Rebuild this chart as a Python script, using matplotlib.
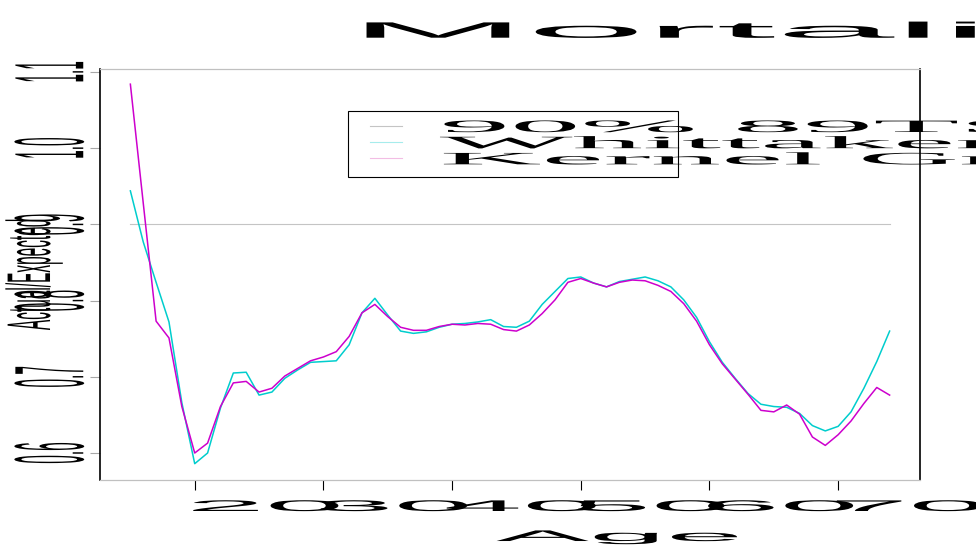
import numpy as np
import matplotlib
matplotlib.use("Agg")
import matplotlib.pyplot as plt
from matplotlib import patheffects
from matplotlib.transforms import Affine2D
from matplotlib.lines import Line2D
from matplotlib.legend_handler import HandlerLine2D

ages = list(range(15, 75))
whittaker = [0.944, 0.877, 0.824, 0.772, 0.666, 0.586, 0.600, 0.659, 0.705, 0.706,
             0.676, 0.680, 0.698, 0.709, 0.719, 0.720, 0.721, 0.742, 0.784, 0.803,
             0.781, 0.760, 0.757, 0.759, 0.765, 0.769, 0.770, 0.772, 0.775, 0.766,
             0.765, 0.773, 0.795, 0.812, 0.829, 0.831, 0.823, 0.818, 0.825, 0.828,
             0.831, 0.826, 0.818, 0.801, 0.778, 0.746, 0.719, 0.698, 0.678, 0.664,
             0.661, 0.660, 0.652, 0.636, 0.629, 0.635, 0.654, 0.685, 0.720, 0.760]
kernel = [1.084, 0.928, 0.773, 0.751, 0.661, 0.600, 0.613, 0.661, 0.692, 0.694,
          0.680, 0.685, 0.701, 0.711, 0.721, 0.726, 0.733, 0.753, 0.784, 0.795,
          0.779, 0.765, 0.761, 0.761, 0.766, 0.769, 0.768, 0.770, 0.769, 0.762,
          0.760, 0.768, 0.783, 0.801, 0.824, 0.829, 0.823, 0.818, 0.824, 0.827,
          0.826, 0.820, 0.812, 0.796, 0.773, 0.742, 0.717, 0.697, 0.677, 0.656,
          0.654, 0.663, 0.651, 0.621, 0.610, 0.624, 0.642, 0.665, 0.686, 0.676]
ref_level = 0.9
legend_labels = ["90% 89TS", "Whittaker", "Kernel Graduation"]
xticks = [20, 30, 40, 50, 60, 70]
yticks = [0.6, 0.7, 0.8, 0.9, 1.0, 1.1]
ytick_labels = ["0.6", "0.7", "0.8", "0.9", "1.0", "1.1"]


# text in the original is squashed sideways, stretch glyphs around the text origin
class Stretch(patheffects.AbstractPathEffect):
    def __init__(self, sx):
        super().__init__()
        self.sx = sx

    def draw_path(self, renderer, gc, tpath, affine, rgbFace=None):
        x0 = affine.get_matrix()[0, 2]
        st = Affine2D().translate(-x0, 0).scale(self.sx, 1).translate(x0, 0)
        renderer.draw_path(gc, tpath, affine + st, rgbFace)


class OffsetLine(HandlerLine2D):
    def get_xdata(self, legend, xdescent, ydescent, width, height, fontsize):
        xd = np.array([-xdescent + 0.29 * width, -xdescent + width])
        return xd, xd


sans = "Liberation Sans"
serif = "Liberation Serif"

fig = plt.figure(figsize=(9.76, 5.46), dpi=100)
ax = fig.add_axes([100 / 976, 66 / 546, 820 / 976, 411 / 546])

ax.plot([ages[0], ages[-1]], [ref_level, ref_level], color="#c4c4c4", lw=0.8)
ax.plot(ages, whittaker, color="#00CDCD", lw=1.1)
ax.plot(ages, kernel, color="#CD00CD", lw=1.1)

ax.set_xlim(12.64, 76.36)
ax.set_ylim(0.5646, 1.1039)

ax.set_xticks(xticks)
ax.set_xticklabels([str(t) for t in xticks], fontsize=11.1, family=sans)
ax.set_yticks(yticks)
ax.set_yticklabels(ytick_labels, fontsize=11.1, family=sans, rotation=90, va="center")
ax.tick_params(axis="x", length=7.2, width=0.8, color="black", pad=7.2)
ax.tick_params(axis="y", length=7.2, width=0.8, color="#a8a8a8", pad=2.7)
for t in ax.get_xticklabels():
    t.set_path_effects([Stretch(9.2)])
for t in ax.get_yticklabels():
    t.set_path_effects([Stretch(6.4)])

for side in ["left", "right"]:
    ax.spines[side].set_color("black")
    ax.spines[side].set_linewidth(1.2)
for side in ["top", "bottom"]:
    ax.spines[side].set_color("#c0c0c0")
    ax.spines[side].set_linewidth(0.9)

ax.set_xlabel("Age", fontsize=11.1, family=sans)
ax.xaxis.set_label_coords(0.5, -0.1217)
ax.xaxis.label.set_path_effects([Stretch(9.0)])
ax.set_ylabel("Actual/Expected", fontsize=11.1, family=sans)
ax.yaxis.set_label_coords(-0.0573, 0.5)
ax.yaxis.label.set_path_effects([Stretch(4.0)])

title = ax.set_title("Mortality", loc="left", x=0.3037, y=1.0559, fontsize=16, family=sans)
title.set_path_effects([Stretch(9.6)])

handles = [Line2D([], [], color="#c4c4c4", lw=0.8),
           Line2D([], [], color="#a6ecec", lw=0.8),
           Line2D([], [], color="#f2bde4", lw=0.8)]
leg = ax.legend(handles, legend_labels, loc="upper left",
                bbox_to_anchor=(348 / 976, 1 - 111 / 546 - 68 / 546, 330 / 976, 68 / 546),
                bbox_transform=fig.transFigure, mode="expand", borderaxespad=0,
                prop={"family": serif, "size": 12.5}, handlelength=2.6,
                handletextpad=2.18, borderpad=0.51, labelspacing=0.0,
                fancybox=False, framealpha=1, edgecolor="black",
                handler_map={Line2D: OffsetLine()})
leg.get_frame().set_linewidth(0.8)
for t in leg.get_texts():
    t.set_path_effects([Stretch(8.1)])

fig.savefig("out.png", dpi=100)
